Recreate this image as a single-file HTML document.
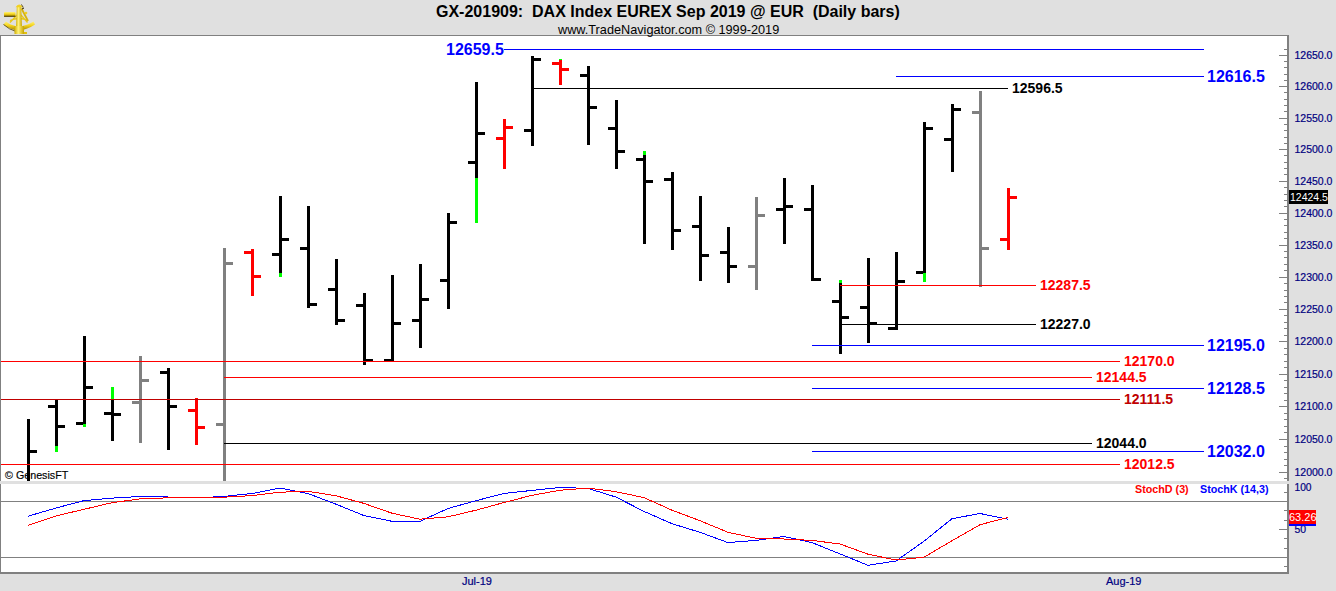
<!DOCTYPE html>
<html><head><meta charset="utf-8"><style>
html,body{margin:0;padding:0;width:1336px;height:591px;overflow:hidden;background:#e0e0e0;font-family:"Liberation Sans",sans-serif;}
#t{position:absolute;left:0;top:0;width:1336px;text-align:center;}
.title{position:absolute;left:436px;top:3px;font-size:16px;font-weight:bold;color:#000;white-space:pre;}
.sub{position:absolute;left:558px;top:22px;font-size:13.5px;transform-origin:0 0;transform:scaleX(0.94);color:#000;white-space:pre;}
svg text{font-family:"Liberation Sans",sans-serif;}
</style></head><body>
<svg width="1336" height="591" style="position:absolute;left:0;top:0" shape-rendering="crispEdges">
<rect x="1" y="36" width="1286" height="445" fill="#fff"/>
<rect x="1" y="484" width="1286" height="88" fill="#fff"/>
<rect x="0" y="35" width="1289" height="1" fill="#808080"/>
<rect x="0" y="35" width="1" height="446" fill="#808080"/>
<rect x="0" y="484" width="1" height="89" fill="#808080"/>
<rect x="1287" y="35" width="2" height="446" fill="#808080"/>
<rect x="1287" y="484" width="2" height="89" fill="#808080"/>
<rect x="0" y="572" width="1289" height="2" fill="#808080"/>
<text transform="translate(5,479) scale(0.975,1)" fill="#000" font-size="11" stroke="#000" stroke-width="0.15">© GenesisFT</text>
<rect x="27" y="419" width="3" height="62" fill="#000000"/>
<rect x="30" y="450" width="7" height="3" fill="#000000"/>
<rect x="55" y="400" width="3" height="52" fill="#000000"/>
<rect x="48" y="405" width="7" height="3" fill="#000000"/>
<rect x="58" y="425" width="7" height="3" fill="#000000"/>
<rect x="55" y="446" width="3" height="6" fill="#00ff00"/>
<rect x="83" y="336" width="3" height="91" fill="#000000"/>
<rect x="76" y="422" width="7" height="3" fill="#000000"/>
<rect x="86" y="386" width="7" height="3" fill="#000000"/>
<rect x="83" y="424" width="3" height="3" fill="#00ff00"/>
<rect x="111" y="387" width="3" height="54" fill="#000000"/>
<rect x="104" y="412" width="7" height="3" fill="#000000"/>
<rect x="114" y="413" width="7" height="3" fill="#000000"/>
<rect x="111" y="387" width="3" height="12" fill="#00ff00"/>
<rect x="139" y="356" width="3" height="87" fill="#808080"/>
<rect x="132" y="401" width="7" height="3" fill="#808080"/>
<rect x="142" y="379" width="7" height="3" fill="#808080"/>
<rect x="167" y="368" width="3" height="82" fill="#000000"/>
<rect x="160" y="371" width="7" height="3" fill="#000000"/>
<rect x="170" y="405" width="7" height="3" fill="#000000"/>
<rect x="195" y="398" width="3" height="47" fill="#ff0000"/>
<rect x="188" y="409" width="7" height="3" fill="#ff0000"/>
<rect x="198" y="426" width="7" height="3" fill="#ff0000"/>
<rect x="223" y="248" width="3" height="233" fill="#808080"/>
<rect x="216" y="423" width="7" height="3" fill="#808080"/>
<rect x="226" y="262" width="7" height="3" fill="#808080"/>
<rect x="251" y="249" width="3" height="47" fill="#ff0000"/>
<rect x="244" y="251" width="7" height="3" fill="#ff0000"/>
<rect x="254" y="275" width="7" height="3" fill="#ff0000"/>
<rect x="279" y="196" width="3" height="81" fill="#000000"/>
<rect x="272" y="253" width="7" height="3" fill="#000000"/>
<rect x="282" y="238" width="7" height="3" fill="#000000"/>
<rect x="279" y="273" width="3" height="4" fill="#00ff00"/>
<rect x="307" y="206" width="3" height="102" fill="#000000"/>
<rect x="300" y="247" width="7" height="3" fill="#000000"/>
<rect x="310" y="303" width="7" height="3" fill="#000000"/>
<rect x="335" y="259" width="3" height="66" fill="#000000"/>
<rect x="328" y="288" width="7" height="3" fill="#000000"/>
<rect x="338" y="319" width="7" height="3" fill="#000000"/>
<rect x="363" y="293" width="3" height="72" fill="#000000"/>
<rect x="356" y="304" width="7" height="3" fill="#000000"/>
<rect x="366" y="359" width="7" height="3" fill="#000000"/>
<rect x="391" y="275" width="3" height="87" fill="#000000"/>
<rect x="384" y="359" width="7" height="3" fill="#000000"/>
<rect x="394" y="322" width="7" height="3" fill="#000000"/>
<rect x="419" y="264" width="3" height="84" fill="#000000"/>
<rect x="412" y="319" width="7" height="3" fill="#000000"/>
<rect x="422" y="298" width="7" height="3" fill="#000000"/>
<rect x="447" y="213" width="3" height="96" fill="#000000"/>
<rect x="440" y="279" width="7" height="3" fill="#000000"/>
<rect x="450" y="221" width="7" height="3" fill="#000000"/>
<rect x="475" y="82" width="3" height="141" fill="#000000"/>
<rect x="468" y="161" width="7" height="3" fill="#000000"/>
<rect x="478" y="132" width="7" height="3" fill="#000000"/>
<rect x="475" y="178" width="3" height="45" fill="#00ff00"/>
<rect x="503" y="119" width="3" height="50" fill="#ff0000"/>
<rect x="496" y="137" width="7" height="3" fill="#ff0000"/>
<rect x="506" y="126" width="7" height="3" fill="#ff0000"/>
<rect x="531" y="56" width="3" height="90" fill="#000000"/>
<rect x="524" y="129" width="7" height="3" fill="#000000"/>
<rect x="534" y="58" width="7" height="3" fill="#000000"/>
<rect x="559" y="59" width="3" height="26" fill="#ff0000"/>
<rect x="552" y="62" width="7" height="3" fill="#ff0000"/>
<rect x="562" y="68" width="7" height="3" fill="#ff0000"/>
<rect x="559" y="59" width="3" height="1" fill="#00ff00"/>
<rect x="587" y="66" width="3" height="79" fill="#000000"/>
<rect x="580" y="74" width="7" height="3" fill="#000000"/>
<rect x="590" y="106" width="7" height="3" fill="#000000"/>
<rect x="615" y="100" width="3" height="69" fill="#000000"/>
<rect x="608" y="127" width="7" height="3" fill="#000000"/>
<rect x="618" y="150" width="7" height="3" fill="#000000"/>
<rect x="643" y="151" width="3" height="93" fill="#000000"/>
<rect x="636" y="158" width="7" height="3" fill="#000000"/>
<rect x="646" y="180" width="7" height="3" fill="#000000"/>
<rect x="643" y="151" width="3" height="4" fill="#00ff00"/>
<rect x="671" y="172" width="3" height="78" fill="#000000"/>
<rect x="664" y="178" width="7" height="3" fill="#000000"/>
<rect x="674" y="229" width="7" height="3" fill="#000000"/>
<rect x="699" y="196" width="3" height="85" fill="#000000"/>
<rect x="692" y="225" width="7" height="3" fill="#000000"/>
<rect x="702" y="254" width="7" height="3" fill="#000000"/>
<rect x="727" y="227" width="3" height="56" fill="#000000"/>
<rect x="720" y="251" width="7" height="3" fill="#000000"/>
<rect x="730" y="265" width="7" height="3" fill="#000000"/>
<rect x="755" y="197" width="3" height="93" fill="#808080"/>
<rect x="748" y="265" width="7" height="3" fill="#808080"/>
<rect x="758" y="214" width="7" height="3" fill="#808080"/>
<rect x="783" y="178" width="3" height="66" fill="#000000"/>
<rect x="776" y="208" width="7" height="3" fill="#000000"/>
<rect x="786" y="205" width="7" height="3" fill="#000000"/>
<rect x="811" y="185" width="3" height="96" fill="#000000"/>
<rect x="804" y="208" width="7" height="3" fill="#000000"/>
<rect x="814" y="278" width="7" height="3" fill="#000000"/>
<rect x="839" y="280" width="3" height="74" fill="#000000"/>
<rect x="832" y="300" width="7" height="3" fill="#000000"/>
<rect x="842" y="316" width="7" height="3" fill="#000000"/>
<rect x="839" y="280" width="3" height="3" fill="#00ff00"/>
<rect x="867" y="258" width="3" height="85" fill="#000000"/>
<rect x="860" y="306" width="7" height="3" fill="#000000"/>
<rect x="870" y="322" width="7" height="3" fill="#000000"/>
<rect x="895" y="252" width="3" height="78" fill="#000000"/>
<rect x="888" y="327" width="7" height="3" fill="#000000"/>
<rect x="898" y="280" width="7" height="3" fill="#000000"/>
<rect x="923" y="122" width="3" height="160" fill="#000000"/>
<rect x="916" y="271" width="7" height="3" fill="#000000"/>
<rect x="926" y="127" width="7" height="3" fill="#000000"/>
<rect x="923" y="273" width="3" height="9" fill="#00ff00"/>
<rect x="951" y="104" width="3" height="68" fill="#000000"/>
<rect x="944" y="138" width="7" height="3" fill="#000000"/>
<rect x="954" y="108" width="7" height="3" fill="#000000"/>
<rect x="979" y="91" width="3" height="196" fill="#808080"/>
<rect x="972" y="111" width="7" height="3" fill="#808080"/>
<rect x="982" y="247" width="7" height="3" fill="#808080"/>
<rect x="1007" y="188" width="3" height="62" fill="#ff0000"/>
<rect x="1000" y="238" width="7" height="3" fill="#ff0000"/>
<rect x="1010" y="196" width="7" height="3" fill="#ff0000"/>
<rect x="504" y="49" width="700" height="1" fill="#0000ff"/>
<rect x="896" y="76" width="308" height="1" fill="#0000ff"/>
<rect x="532" y="88" width="476" height="1" fill="#000000"/>
<rect x="840" y="285" width="196" height="1" fill="#ff0000"/>
<rect x="840" y="324" width="196" height="1" fill="#000000"/>
<rect x="812" y="345" width="392" height="1" fill="#0000ff"/>
<rect x="1" y="361" width="1119" height="1" fill="#ff0000"/>
<rect x="224" y="377" width="868" height="1" fill="#ff0000"/>
<rect x="812" y="388" width="392" height="1" fill="#0000ff"/>
<rect x="1" y="399" width="1119" height="1" fill="#c00000"/>
<rect x="224" y="443" width="868" height="1" fill="#000000"/>
<rect x="812" y="451" width="392" height="1" fill="#0000ff"/>
<rect x="1" y="464" width="1119" height="1" fill="#ff0000"/>
<text x="446" y="55" fill="#0000ff" font-size="16" font-weight="bold">12659.5</text>
<text x="1207" y="82" fill="#0000ff" font-size="16" font-weight="bold">12616.5</text>
<text x="1012" y="93" fill="#000000" font-size="14" font-weight="bold">12596.5</text>
<text x="1040" y="290" fill="#ff0000" font-size="14" font-weight="bold">12287.5</text>
<text x="1040" y="329" fill="#000000" font-size="14" font-weight="bold">12227.0</text>
<text x="1207" y="351" fill="#0000ff" font-size="16" font-weight="bold">12195.0</text>
<text x="1124" y="366" fill="#ff0000" font-size="14" font-weight="bold">12170.0</text>
<text x="1096" y="382" fill="#ff0000" font-size="14" font-weight="bold">12144.5</text>
<text x="1207" y="394" fill="#0000ff" font-size="16" font-weight="bold">12128.5</text>
<text x="1124" y="404" fill="#c00000" font-size="14" font-weight="bold">12111.5</text>
<text x="1096" y="448" fill="#000000" font-size="14" font-weight="bold">12044.0</text>
<text x="1207" y="457" fill="#0000ff" font-size="16" font-weight="bold">12032.0</text>
<text x="1124" y="469" fill="#ff0000" font-size="14" font-weight="bold">12012.5</text>
<rect x="1284" y="478" width="3" height="1" fill="#808080"/>
<rect x="1279" y="472" width="8" height="1" fill="#808080"/>
<text transform="translate(1294.5,476) scale(0.955,1)" fill="#000080" font-size="11" stroke="#000080" stroke-width="0.2">12000.0</text>
<rect x="1284" y="465" width="3" height="1" fill="#808080"/>
<rect x="1284" y="459" width="3" height="1" fill="#808080"/>
<rect x="1284" y="452" width="3" height="1" fill="#808080"/>
<rect x="1284" y="446" width="3" height="1" fill="#808080"/>
<rect x="1279" y="439" width="8" height="1" fill="#808080"/>
<text transform="translate(1294.5,443) scale(0.955,1)" fill="#000080" font-size="11" stroke="#000080" stroke-width="0.2">12050.0</text>
<rect x="1284" y="432" width="3" height="1" fill="#808080"/>
<rect x="1284" y="426" width="3" height="1" fill="#808080"/>
<rect x="1284" y="419" width="3" height="1" fill="#808080"/>
<rect x="1284" y="413" width="3" height="1" fill="#808080"/>
<rect x="1279" y="406" width="8" height="1" fill="#808080"/>
<text transform="translate(1294.5,410) scale(0.955,1)" fill="#000080" font-size="11" stroke="#000080" stroke-width="0.2">12100.0</text>
<rect x="1284" y="400" width="3" height="1" fill="#808080"/>
<rect x="1284" y="393" width="3" height="1" fill="#808080"/>
<rect x="1284" y="387" width="3" height="1" fill="#808080"/>
<rect x="1284" y="380" width="3" height="1" fill="#808080"/>
<rect x="1279" y="374" width="8" height="1" fill="#808080"/>
<text transform="translate(1294.5,378) scale(0.955,1)" fill="#000080" font-size="11" stroke="#000080" stroke-width="0.2">12150.0</text>
<rect x="1284" y="367" width="3" height="1" fill="#808080"/>
<rect x="1284" y="361" width="3" height="1" fill="#808080"/>
<rect x="1284" y="354" width="3" height="1" fill="#808080"/>
<rect x="1284" y="348" width="3" height="1" fill="#808080"/>
<rect x="1279" y="341" width="8" height="1" fill="#808080"/>
<text transform="translate(1294.5,345) scale(0.955,1)" fill="#000080" font-size="11" stroke="#000080" stroke-width="0.2">12200.0</text>
<rect x="1284" y="335" width="3" height="1" fill="#808080"/>
<rect x="1284" y="328" width="3" height="1" fill="#808080"/>
<rect x="1284" y="322" width="3" height="1" fill="#808080"/>
<rect x="1284" y="315" width="3" height="1" fill="#808080"/>
<rect x="1279" y="309" width="8" height="1" fill="#808080"/>
<text transform="translate(1294.5,313) scale(0.955,1)" fill="#000080" font-size="11" stroke="#000080" stroke-width="0.2">12250.0</text>
<rect x="1284" y="302" width="3" height="1" fill="#808080"/>
<rect x="1284" y="296" width="3" height="1" fill="#808080"/>
<rect x="1284" y="290" width="3" height="1" fill="#808080"/>
<rect x="1284" y="283" width="3" height="1" fill="#808080"/>
<rect x="1279" y="277" width="8" height="1" fill="#808080"/>
<text transform="translate(1294.5,281) scale(0.955,1)" fill="#000080" font-size="11" stroke="#000080" stroke-width="0.2">12300.0</text>
<rect x="1284" y="270" width="3" height="1" fill="#808080"/>
<rect x="1284" y="264" width="3" height="1" fill="#808080"/>
<rect x="1284" y="257" width="3" height="1" fill="#808080"/>
<rect x="1284" y="251" width="3" height="1" fill="#808080"/>
<rect x="1279" y="245" width="8" height="1" fill="#808080"/>
<text transform="translate(1294.5,249) scale(0.955,1)" fill="#000080" font-size="11" stroke="#000080" stroke-width="0.2">12350.0</text>
<rect x="1284" y="238" width="3" height="1" fill="#808080"/>
<rect x="1284" y="232" width="3" height="1" fill="#808080"/>
<rect x="1284" y="225" width="3" height="1" fill="#808080"/>
<rect x="1284" y="219" width="3" height="1" fill="#808080"/>
<rect x="1279" y="213" width="8" height="1" fill="#808080"/>
<text transform="translate(1294.5,217) scale(0.955,1)" fill="#000080" font-size="11" stroke="#000080" stroke-width="0.2">12400.0</text>
<rect x="1284" y="206" width="3" height="1" fill="#808080"/>
<rect x="1284" y="200" width="3" height="1" fill="#808080"/>
<rect x="1284" y="194" width="3" height="1" fill="#808080"/>
<rect x="1284" y="187" width="3" height="1" fill="#808080"/>
<rect x="1279" y="181" width="8" height="1" fill="#808080"/>
<text transform="translate(1294.5,185) scale(0.955,1)" fill="#000080" font-size="11" stroke="#000080" stroke-width="0.2">12450.0</text>
<rect x="1284" y="174" width="3" height="1" fill="#808080"/>
<rect x="1284" y="168" width="3" height="1" fill="#808080"/>
<rect x="1284" y="162" width="3" height="1" fill="#808080"/>
<rect x="1284" y="155" width="3" height="1" fill="#808080"/>
<rect x="1279" y="149" width="8" height="1" fill="#808080"/>
<text transform="translate(1294.5,153) scale(0.955,1)" fill="#000080" font-size="11" stroke="#000080" stroke-width="0.2">12500.0</text>
<rect x="1284" y="143" width="3" height="1" fill="#808080"/>
<rect x="1284" y="137" width="3" height="1" fill="#808080"/>
<rect x="1284" y="130" width="3" height="1" fill="#808080"/>
<rect x="1284" y="124" width="3" height="1" fill="#808080"/>
<rect x="1279" y="118" width="8" height="1" fill="#808080"/>
<text transform="translate(1294.5,122) scale(0.955,1)" fill="#000080" font-size="11" stroke="#000080" stroke-width="0.2">12550.0</text>
<rect x="1284" y="111" width="3" height="1" fill="#808080"/>
<rect x="1284" y="105" width="3" height="1" fill="#808080"/>
<rect x="1284" y="99" width="3" height="1" fill="#808080"/>
<rect x="1284" y="92" width="3" height="1" fill="#808080"/>
<rect x="1279" y="86" width="8" height="1" fill="#808080"/>
<text transform="translate(1294.5,90) scale(0.955,1)" fill="#000080" font-size="11" stroke="#000080" stroke-width="0.2">12600.0</text>
<rect x="1284" y="80" width="3" height="1" fill="#808080"/>
<rect x="1284" y="74" width="3" height="1" fill="#808080"/>
<rect x="1284" y="67" width="3" height="1" fill="#808080"/>
<rect x="1284" y="61" width="3" height="1" fill="#808080"/>
<rect x="1279" y="55" width="8" height="1" fill="#808080"/>
<text transform="translate(1294.5,59) scale(0.955,1)" fill="#000080" font-size="11" stroke="#000080" stroke-width="0.2">12650.0</text>
<rect x="1284" y="49" width="3" height="1" fill="#808080"/>
<rect x="1289" y="190" width="39" height="14" fill="#000"/>
<text transform="translate(1290,201) scale(0.955,1)" fill="#fff" font-size="11">12424.5</text>
<rect x="1" y="501" width="1286" height="1" fill="#808080"/>
<rect x="1" y="557" width="1286" height="1" fill="#808080"/>
<rect x="1284" y="492" width="3" height="1" fill="#808080"/>
<rect x="1284" y="510" width="3" height="1" fill="#808080"/>
<rect x="1284" y="520" width="3" height="1" fill="#808080"/>
<rect x="1284" y="538" width="3" height="1" fill="#808080"/>
<rect x="1284" y="548" width="3" height="1" fill="#808080"/>
<rect x="1284" y="566" width="3" height="1" fill="#808080"/>
<rect x="1279" y="529" width="8" height="1" fill="#808080"/>
<text transform="translate(1294.5,491) scale(0.93,1)" fill="#000080" font-size="11" stroke="#000080" stroke-width="0.2">100</text>
<text transform="translate(1294.5,533) scale(0.95,1)" fill="#000080" font-size="11" stroke="#000080" stroke-width="0.2">50</text>
<polyline points="28,516.2 56,508 84,500.6 112,498.1 140,496.5 168,497 196,498 224,496.4 252,493.5 280,488.1 308,493.5 336,504.2 364,515.6 392,521.3 420,521.3 448,508.5 476,500.7 504,493.5 532,490.4 560,487.5 588,488.4 616,497.1 644,511.4 672,523.7 700,532.3 728,542.6 756,540.4 784,536.5 812,542.6 840,553.9 868,565.3 896,561 924,541.2 952,518.7 980,513.5 1008,519.2" fill="none" stroke="#0000ff" stroke-width="1"/>
<polyline points="28,525.3 56,515.9 84,509.3 112,502.7 140,498.9 168,497.8 196,497.3 224,497.2 252,495.6 280,492.2 308,491.3 336,495.8 364,503.4 392,513.2 420,519.2 448,516.8 476,510.2 504,502.5 532,495.3 560,490.2 588,488.1 616,491.7 644,497.6 672,510.2 700,520.7 728,532.3 756,538.3 784,539 812,540.4 840,544 868,554.2 896,560 924,557.2 952,540.7 980,524.7 1008,517.5" fill="none" stroke="#ff0000" stroke-width="1"/>
<rect x="1289" y="510" width="27" height="14" fill="#ff0000"/>
<rect x="1289" y="524" width="27" height="2" fill="#0000ff"/>
<text x="1289" y="521" fill="#fff" font-size="11">63.26</text>
<text transform="translate(1135,493) scale(0.978,1)" fill="#ff0000" font-size="11" font-weight="bold">StochD (3)</text>
<text transform="translate(1200,493) scale(0.977,1)" fill="#0000ff" font-size="11" font-weight="bold">StochK (14,3)</text>
<text x="462" y="585" fill="#000080" font-size="11" stroke="#000080" stroke-width="0.2">Jul-19</text>
<text x="1106" y="585" fill="#000080" font-size="11" stroke="#000080" stroke-width="0.2">Aug-19</text>
</svg>
<svg width="40" height="36" style="position:absolute;left:0;top:0"><g>
<defs><linearGradient id="gy" x1="0" y1="0" x2="0" y2="1"><stop offset="0" stop-color="#fff27a"/><stop offset="0.45" stop-color="#f4d41e"/><stop offset="1" stop-color="#a88a00"/></linearGradient>
<linearGradient id="gx" x1="0" y1="0" x2="1" y2="0"><stop offset="0" stop-color="#d0ae00"/><stop offset="0.4" stop-color="#fff27a"/><stop offset="1" stop-color="#c8a400"/></linearGradient></defs>
<path d="M3.5 24.5 Q18 36 35 24.5 L33.5 21.5 Q18 31 6 21.5 Z" fill="url(#gy)"/>
<path d="M3.5 24.5 Q10 30 15 31" stroke="#4a3a00" stroke-width="0.8" fill="none"/>
<path d="M10 22.5 L17 15 M27.5 22.5 L21 15 M10 20.5 Q19 16.5 28 20.5" stroke="#e8c818" stroke-width="1.3" fill="none"/>
<path d="M21.5 8.5 L28 21" stroke="#d8b410" stroke-width="1.8" fill="none"/>
<path d="M22 9 L24 8" stroke="#302400" stroke-width="1" fill="none"/>
<circle cx="26" cy="13" r="1.3" fill="#f0d020"/>
<rect x="4" y="12" width="11.5" height="4.5" rx="1" fill="url(#gy)"/>
<rect x="4" y="15.8" width="11.5" height="0.9" fill="#3a2c00"/>
<path d="M16.8 7 L21.2 7 L22 27 L16 27 Z" fill="url(#gx)"/>
<path d="M15.5 7.2 Q19 1.8 23 7.2 Z" fill="#f2d020"/>
<path d="M21 4.5 Q23 5.5 23 7.5" stroke="#403000" stroke-width="0.8" fill="none"/>
<rect x="14.5" y="26" width="9.5" height="8" fill="url(#gx)"/>
<rect x="24" y="32" width="3" height="2" fill="#e0c010"/>
</g></svg>
<div class="title">GX-201909:  DAX Index EUREX Sep 2019 @ EUR  (Daily bars)</div>
<div class="sub">www.TradeNavigator.com © 1999-2019</div>
</body></html>
